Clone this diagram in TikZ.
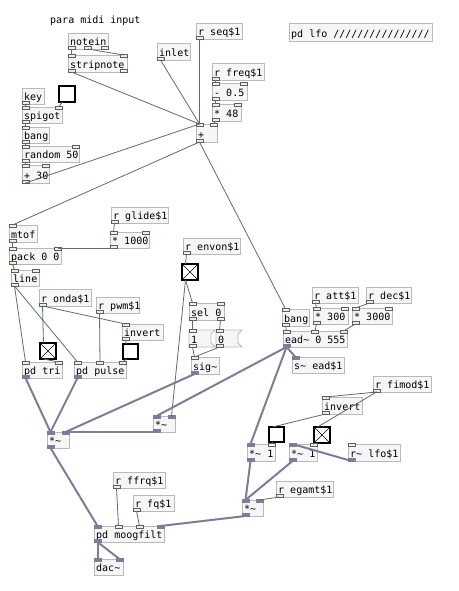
\documentclass[tikz,border=0pt]{standalone}
\usepackage{fontspec}
\newfontfamily\pdfont{DejaVu Sans Mono}
\newcommand\pdtl{\textasciitilde}
\definecolor{boxborder}{RGB}{185,185,185}
\definecolor{boxfill}{RGB}{246,246,246}
\definecolor{nubline}{RGB}{85,100,85}
\definecolor{nubfill}{RGB}{236,239,236}
\definecolor{sigcol}{RGB}{125,125,152}
\definecolor{ctlcol}{RGB}{95,110,95}
\tikzset{
  objbox/.style={draw=boxborder, fill=boxfill, line width=0.8pt, inner sep=0pt, outer sep=0pt, anchor=north west},
  lbl/.style={font=\pdfont\fontsize{10}{12}\selectfont, inner sep=0pt, anchor=base west, text=black},
  nubc/.style={draw=nubline, fill=nubfill, line width=0.6pt},
  nubs/.style={draw=sigcol, fill=sigcol, line width=0.6pt},
  nubtype/.code={\if#1s\pgfkeysalso{/tikz/nubs}\else\pgfkeysalso{/tikz/nubc}\fi},
  cw/.style={draw=ctlcol, line width=0.8pt},
  sw/.style={draw=sigcol, line width=2pt},
  tglbox/.style={draw=black, fill=white, line width=1.1pt, inner sep=0pt, outer sep=0pt, anchor=north west},
}
% nubs: name, x, y, w, h, list, i/o
\newcommand\pdnubs[7]{%
  \def\pdtmp{#6}%
  \ifx\pdtmp\empty\else
    \foreach \nt [count=\k] in {#6} {\xdef\pdn{\k}}%
    \foreach \nt [count=\k from 0] in {#6} {%
      \pgfmathsetmacro\nx{#2+(#4-7)*\k/max(\pdn-1,1)}%
      \if#7i%
        \path[nubtype=\nt] (\nx,{#3-0.3}) rectangle ++(7,2.8);
        \coordinate (#1-i\k) at ({\nx+3.5},#3);
      \else
        \path[nubtype=\nt] (\nx,{#3+#5-2.5}) rectangle ++(7,2.8);
        \coordinate (#1-o\k) at ({\nx+3.5},{#3+#5});
      \fi
    }%
  \fi
}
% object: name, x, y, w, h, text, inlets, outlets
\newcommand\pdo[8]{%
  \node[objbox, minimum width=#4pt, minimum height=#5pt] (#1) at (#2,#3) {};
  \node[lbl] (#1-t) at ({#2+2},{#3+#5-3.5}) {#6};
  \pdnubs{#1}{#2}{#3}{#4}{#5}{#7}{i}%
  \pdnubs{#1}{#2}{#3}{#4}{#5}{#8}{o}%
}
% message: name, x, y, w, h, text
\newcommand\pdmsg[6]{%
  \node[inner sep=0pt, outer sep=0pt, minimum width=#4pt, minimum height=#5pt, anchor=north west] (#1) at (#2,#3) {};
  \filldraw[draw=boxborder, fill=boxfill, line width=0.8pt] (#2,#3) -- ++(#4+4,0) -- ++(-4,4) -- ++(0,#5-8) -- ++(4,4) -- ++(-#4-4,0) -- cycle;
  \node[lbl] (#1-t) at ({#2+2},{#3+#5-3.5}) {#6};
  \pdnubs{#1}{#2}{#3}{#4}{#5}{c}{i}%
  \pdnubs{#1}{#2}{#3}{#4}{#5}{c}{o}%
}
% toggle: name, x, y, size, cross
\newcommand\pdtgl[5]{%
  \node[tglbox, minimum width=#4pt, minimum height=#4pt] (#1) at (#2,#3) {};
  \ifnum#5=1
    \draw[line width=0.6pt] ({#2+1.2},{#3+1.2}) -- ({#2+#4-1.2},{#3+#4-1.2})
      ({#2+#4-1.2},{#3+1.2}) -- ({#2+1.2},{#3+#4-1.2});
  \fi
  \coordinate (#1-i0) at ({#2+3.5},#3);
  \coordinate (#1-o0) at ({#2+3.5},{#3+#4});
}
\begin{document}
\begin{tikzpicture}[x=1pt,y=-1pt]
\useasboundingbox[fill=white] (0,0) rectangle (458,591);

\node[lbl] (cmt) at (50,23.5) {para midi input};

\pdo{notein}{68}{33}{40}{16}{notein}{}{c,c,c}
\pdo{strip}{68}{55}{59}{17}{stripnote}{c,c}{c,c}
\pdo{inlet}{157}{43}{33}{17}{inlet}{}{c}
\pdo{rseq}{196}{23}{46}{16}{r seq\$1}{}{c}
\pdo{lfo}{289}{23}{143}{18}{pd lfo ////////////////}{}{}
\pdo{rfreq}{212}{63}{52}{17}{r freq\$1}{}{c}
\pdo{sub}{212}{83}{35}{17}{- 0.5}{c,c}{c}
\pdo{mul48}{212}{104}{29}{17}{* 48}{c,c}{c}
\pdo{plus}{196}{124}{21}{18}{+}{c,c}{c}
\pdo{key}{22}{88}{22}{16}{key}{}{c}
\pdtgl{tgla}{59}{86}{16}{0}
\pdo{spigot}{22}{107}{40}{16}{spigot}{c,c}{c}
\pdo{banga}{22}{127}{27}{16}{bang}{c}{c}
\pdo{random}{22}{146}{57}{16}{random 50}{c,c}{c}
\pdo{plusb}{22}{165}{27}{18}{+ 30}{c,c}{c}

\pdo{mtof}{9}{225}{28}{17}{mtof}{c}{c}
\pdo{rglide}{111}{207}{57}{16}{r glide\$1}{}{c}
\pdo{mulk}{110}{232}{39}{16}{* 1000}{c,c}{c}
\pdo{pack}{9}{248}{52}{16}{pack 0 0}{c,c}{c}
\pdo{line}{11}{270}{28}{16}{line}{c,c}{c}
\pdo{ronda}{39}{289}{52}{17}{r onda\$1}{}{c}
\pdo{rpwm}{96}{297}{43}{16}{r pwm\$1}{}{c}
\pdo{inva}{122}{324}{41}{16}{invert}{c}{c}
\pdtgl{tglb}{40}{343}{16}{1}
\pdtgl{tglc}{123}{344}{15}{0}
\pdo{pdtri}{22}{362}{40}{16}{pd tri}{c,c}{s}
\pdo{pdpulse}{74}{362}{52}{16}{pd pulse}{c,c,c}{s}

\pdo{renvon}{183}{238}{57}{16}{r envon\$1}{}{c}
\pdtgl{tgld}{182}{264}{16}{1}
\pdo{sel}{189}{303}{35}{17}{sel 0}{c,c}{c,c}
\pdmsg{msga}{189}{330}{22}{17}{1}
\pdmsg{msgb}{216}{330}{22}{17}{0}
\pdo{sig}{191}{357}{28}{17}{sig\pdtl}{c}{s}

\pdo{bangb}{282}{309}{27}{17}{bang}{c}{c}
\pdo{ratt}{312}{287}{46}{16}{r att\$1}{}{c}
\pdo{rdec}{366}{287}{45}{16}{r dec\$1}{}{c}
\pdo{mulc}{313}{308}{35}{16}{* 300}{c,c}{c}
\pdo{muld}{352}{308}{40}{16}{* 3000}{c,c}{c}
\pdo{ead}{283}{331}{64}{16}{ead\pdtl{} 0 555}{c,c,c}{s}
\pdo{sead}{292}{357}{52}{16}{s\pdtl{} ead\$1}{s}{}
\pdo{rfimod}{373}{376}{58}{16}{r fimod\$1}{}{c}
\pdo{invb}{322}{397}{40}{17}{invert}{c}{c}
\pdtgl{tgle}{269}{427}{15}{0}
\pdtgl{tglf}{314}{427}{16}{1}
\pdo{mula}{247}{444}{28}{17}{*\pdtl{} 1}{s,c}{s}
\pdo{mulb}{289}{444}{28}{17}{*\pdtl{} 1}{s,c}{s}
\pdo{rlfo}{348}{444}{52}{17}{r\pdtl{} lfo\$1}{c}{s}
\pdo{regamt}{276}{481}{57}{16}{r egamt\$1}{}{c}
\pdo{mulc2}{242}{500}{21}{16}{*\pdtl}{s,s}{s}
\pdo{mulmid}{153}{416}{22}{16}{*\pdtl}{s,s}{s}
\pdo{mulleft}{47}{432}{22}{16}{*\pdtl}{s,s}{s}
\pdo{rffrq}{113}{472}{52}{16}{r ffrq\$1}{}{c}
\pdo{rfq}{133}{495}{41}{16}{r fq\$1}{}{c}
\pdo{moog}{94}{526}{70}{16}{pd moogfilt}{s,c,c,s}{s}
\pdo{dac}{94}{559}{29}{16}{dac\pdtl}{s,s}{}

% control wires
\draw[cw] (notein-o0) -- (strip-i0);
\draw[cw] (notein-o1) -- (strip-i1);
\draw[cw] (strip-o0) -- (plus-i0);
\draw[cw] (inlet-o0) -- (plus-i0);
\draw[cw] (rseq-o0) -- (plus-i0);
\draw[cw] (rfreq-o0) -- (sub-i0);
\draw[cw] (sub-o0) -- (mul48-i0);
\draw[cw] (mul48-o0) -- (plus-i1);
\draw[cw] (key-o0) -- (spigot-i0);
\draw[cw] (tgla-o0) -- (spigot-i1);
\draw[cw] (spigot-o0) -- (banga-i0);
\draw[cw] (banga-o0) -- (random-i0);
\draw[cw] (random-o0) -- (plusb-i0);
\draw[cw] (plusb-o0) -- (plus-i0);
\draw[cw] (plus-o0) -- (mtof-i0);
\draw[cw] (plus-o0) -- (bangb-i0);
\draw[cw] (mtof-o0) -- (pack-i0);
\draw[cw] (rglide-o0) -- (mulk-i0);
\draw[cw] (mulk-o0) -- (pack-i1);
\draw[cw] (pack-o0) -- (line-i0);
\draw[cw] (line-o0) -- (pdtri-i0);
\draw[cw] (line-o0) -- (pdpulse-i0);
\draw[cw] (ronda-o0) -- (tglb-i0);
\draw[cw] (ronda-o0) -- (inva-i0);
\draw[cw] (tglb-o0) -- (pdtri-i1);
\draw[cw] (rpwm-o0) -- (pdpulse-i1);
\draw[cw] (inva-o0) -- (tglc-i0);
\draw[cw] (tglc-o0) -- (pdpulse-i2);
\draw[cw] (renvon-o0) -- (tgld-i0);
\draw[cw] (tgld-o0) -- (sel-i0);
\draw[cw] (tgld-o0) -- (mulmid-i1);
\draw[cw] (sel-o0) -- (msga-i0);
\draw[cw] (sel-o1) -- (msgb-i0);
\draw[cw] (msga-o0) -- (sig-i0);
\draw[cw] (msgb-o0) -- (sig-i0);
\draw[cw] (bangb-o0) -- (ead-i0);
\draw[cw] (ratt-o0) -- (mulc-i0);
\draw[cw] (rdec-o0) -- (muld-i0);
\draw[cw] (mulc-o0) -- (ead-i1);
\draw[cw] (muld-o0) -- (ead-i2);
\draw[cw] (rfimod-o0) -- (invb-i0);
\draw[cw] (rfimod-o0) -- (tglf-i0);
\draw[cw] (invb-o0) -- (tgle-i0);
\draw[cw] (tgle-o0) -- (mula-i1);
\draw[cw] (tglf-o0) -- (mulb-i1);
\draw[cw] (regamt-o0) -- (mulc2-i1);
\draw[cw] (rffrq-o0) -- (moog-i1);
\draw[cw] (rfq-o0) -- (moog-i2);

% signal wires
\draw[sw] (pdtri-o0) -- (mulleft-i0);
\draw[sw] (pdpulse-o0) -- (mulleft-i0);
\draw[sw] (sig-o0) -- (mulleft-i1);
\draw[sw] (mulmid-o0) -- (mulleft-i1);
\draw[sw] (ead-o0) -- (mulmid-i0);
\draw[sw] (ead-o0) -- (sead-i0);
\draw[sw] (ead-o0) -- (mula-i0);
\draw[sw] (rlfo-o0) -- (mulb-i0);
\draw[sw] (mula-o0) -- (mulc2-i0);
\draw[sw] (mulb-o0) -- (mulc2-i0);
\draw[sw] (mulc2-o0) -- (moog-i3);
\draw[sw] (mulleft-o0) -- (moog-i0);
\draw[sw] (moog-o0) -- (dac-i0);
\draw[sw] (moog-o0) -- (dac-i1);
\end{tikzpicture}
\end{document}
